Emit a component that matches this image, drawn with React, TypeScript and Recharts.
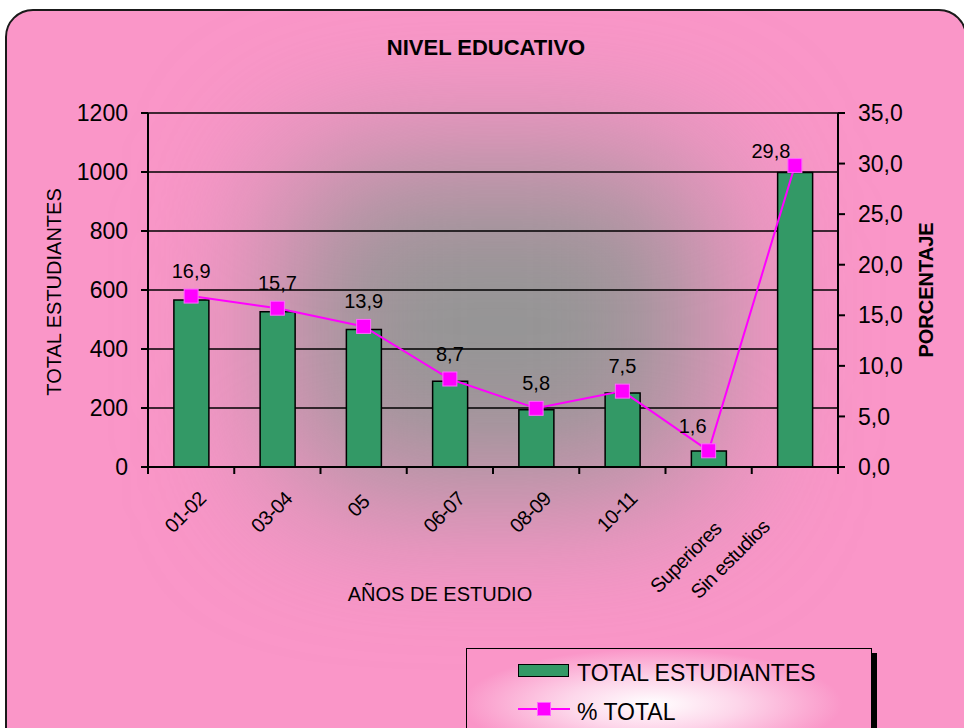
import React from "react";
import {
  Bar,
  CartesianGrid,
  ComposedChart,
  Label,
  LabelList,
  Line,
  XAxis,
  YAxis,
} from "recharts";

const categories = ["01-02", "03-04", "05", "06-07", "08-09", "10-11", "Superiores", "Sin estudios"];
const totalEstudiantes = [566, 526, 466, 291, 194, 251, 54, 998];
const porcentaje = [16.9, 15.7, 13.9, 8.7, 5.8, 7.5, 1.6, 29.8];
const leftTicks = [0, 200, 400, 600, 800, 1000, 1200];
const rightTicks = [0, 5, 10, 15, 20, 25, 30, 35];

const data = categories.map((name, i) => ({
  name,
  total: totalEstudiantes[i],
  pct: porcentaje[i],
}));

const FONT = '"Liberation Sans", Arial, sans-serif';
const PINK = "#FA96C8";
const W = 964;
const H = 728;
const AXIS_W = 70;
const M = { top: 113, right: 56, bottom: 161, left: 78 };
const BAND = (W - M.left - M.right - 2 * AXIS_W) / categories.length;

// Excel moved a couple of the data labels to the left of their points
const labelNudge: Record<number, [number, number]> = {
  6: [-16, 0],
  7: [-24, 10],
};
// and placed some category labels off their tick
const tickNudge: Record<number, [number, number]> = {
  2: [-9, 3],
  6: [-2, 30],
  7: [-40, 28],
};

const fmt = (v: number) => v.toFixed(1).replace(".", ",");

function XTick(props: any) {
  const { x, y, payload, index } = props;
  const last = index === categories.length - 1;
  const [dx, dy] = tickNudge[index] ?? [0, 0];
  const ax = x + 16 + dx;
  const ay = y + 33 + dy;
  return (
    <g>
      <line x1={x - BAND / 2} x2={x - BAND / 2} y1={y} y2={y + 7} stroke="#000" strokeWidth={2} />
      {last && <line x1={x + BAND / 2} x2={x + BAND / 2} y1={y} y2={y + 7} stroke="#000" strokeWidth={2} />}
      <text
        x={ax}
        y={ay}
        transform={`rotate(-45, ${ax}, ${ay})`}
        textAnchor="end"
        fontSize={20}
        letterSpacing={-0.6}
        fontFamily={FONT}
        fill="#000"
      >
        {payload.value}
      </text>
    </g>
  );
}

function PctLabel(props: any) {
  const { x, y, value, index } = props;
  const [dx, dy] = labelNudge[index] ?? [0, 0];
  return (
    <text x={x + dx} y={y - 18 + dy} textAnchor="middle" fontSize={20} fontFamily={FONT} fill="#000">
      {fmt(value)}
    </text>
  );
}

function SquareDot(props: any) {
  const { cx, cy, index } = props;
  return <rect key={index} x={cx - 7} y={cy - 7} width={14} height={14} fill="#FF00FF" stroke="#FF66FF" strokeWidth={1} />;
}

export default function App() {
  return (
    <div
      style={{
        position: "fixed",
        left: 0,
        top: 0,
        width: W,
        height: H,
        overflow: "hidden",
        background: "#fff",
        fontFamily: FONT,
      }}
    >
      <div
        style={{
          position: "absolute",
          left: 5,
          top: 9,
          width: 962,
          height: 790,
          borderRadius: 28,
          border: "2px solid #1a1a1a",
          background: PINK,
          overflow: "hidden",
          boxSizing: "border-box",
        }}
      >
        <div
          style={{
            position: "absolute",
            left: 280,
            top: 150,
            width: 420,
            height: 330,
            borderRadius: 60,
            background: "#959595",
            filter: "blur(75px)",
          }}
        />
      </div>

      <div
        style={{
          position: "absolute",
          left: 0,
          width: 972,
          top: 35,
          textAlign: "center",
          fontWeight: "bold",
          fontSize: 22,
          color: "#000",
        }}
      >
        NIVEL EDUCATIVO
      </div>

      <ComposedChart
        width={W}
        height={H}
        data={data}
        margin={M}
        barCategoryGap="30%"
        style={{ position: "absolute", left: 0, top: 0 }}
      >
        <CartesianGrid yAxisId="left" vertical={false} stroke="#000" strokeWidth={1.5} />
        <XAxis
          dataKey="name"
          interval={0}
          height={100}
          axisLine={{ stroke: "#000", strokeWidth: 2 }}
          tickLine={false}
          tickSize={0}
          tickMargin={0}
          tick={<XTick />}
        >
          <Label
            content={() => (
              <text x={440} y={601} textAnchor="middle" fontSize={20} fontFamily={FONT} fill="#000">
                AÑOS DE ESTUDIO
              </text>
            )}
          />
        </XAxis>
        <YAxis
          yAxisId="left"
          width={AXIS_W}
          domain={[0, 1200]}
          ticks={leftTicks}
          interval={0}
          axisLine={{ stroke: "#000", strokeWidth: 2 }}
          tickLine={{ stroke: "#000", strokeWidth: 2 }}
          tickSize={7}
          tickMargin={13}
          tick={{ fill: "#000", fontSize: 23, fontFamily: FONT }}
        >
          <Label
            content={(p: any) => {
              const cx = p.viewBox.x - 17;
              const cy = p.viewBox.y + p.viewBox.height / 2 + 2;
              return (
                <text
                  x={cx}
                  y={cy}
                  transform={`rotate(-90, ${cx}, ${cy})`}
                  textAnchor="middle"
                  fontSize={20}
                  fontFamily={FONT}
                  fill="#000"
                >
                  TOTAL ESTUDIANTES
                </text>
              );
            }}
          />
        </YAxis>
        <YAxis
          yAxisId="right"
          orientation="right"
          width={AXIS_W}
          domain={[0, 35]}
          ticks={rightTicks}
          interval={0}
          tickFormatter={fmt}
          axisLine={{ stroke: "#000", strokeWidth: 2 }}
          tickLine={{ stroke: "#000", strokeWidth: 2 }}
          tickSize={7}
          tickMargin={13}
          tick={{ fill: "#000", fontSize: 23, fontFamily: FONT }}
        >
          <Label
            content={(p: any) => {
              const cx = p.viewBox.x + p.viewBox.width + 25;
              const cy = p.viewBox.y + p.viewBox.height / 2;
              return (
                <text
                  x={cx}
                  y={cy}
                  transform={`rotate(-90, ${cx}, ${cy})`}
                  textAnchor="middle"
                  fontSize={20}
                  fontWeight="bold"
                  fontFamily={FONT}
                  fill="#000"
                >
                  PORCENTAJE
                </text>
              );
            }}
          />
        </YAxis>
        <Bar
          yAxisId="left"
          dataKey="total"
          fill="#339966"
          stroke="#000"
          strokeWidth={1.5}
          isAnimationActive={false}
        />
        <Line
          yAxisId="right"
          dataKey="pct"
          type="linear"
          stroke="#FF00FF"
          strokeWidth={2}
          dot={SquareDot}
          activeDot={false}
          isAnimationActive={false}
        >
          <LabelList dataKey="pct" content={PctLabel} />
        </Line>
      </ComposedChart>

      <div
        style={{
          position: "absolute",
          left: 466,
          top: 648,
          width: 406,
          height: 110,
          boxSizing: "border-box",
          border: "1.5px solid #000",
          boxShadow: "5px 5px 0 #000",
          background: `radial-gradient(ellipse 190px 55px at 185px 55px, #ffffff 0%, #fdd6ea 45%, ${PINK} 100%)`,
        }}
      >
        <div style={{ position: "absolute", left: 51, top: 15, width: 51, height: 13, background: "#339966", border: "1.5px solid #000", boxSizing: "border-box" }} />
        <div style={{ position: "absolute", left: 110, top: 13, fontSize: 23, lineHeight: "23px", color: "#000" }}>TOTAL ESTUDIANTES</div>
        <div style={{ position: "absolute", left: 51, top: 59, width: 52, height: 2, background: "#FF00FF" }} />
        <div style={{ position: "absolute", left: 70, top: 53, width: 14, height: 14, background: "#FF00FF", border: "1px solid #FF66FF", boxSizing: "border-box" }} />
        <div style={{ position: "absolute", left: 110, top: 52, fontSize: 23, lineHeight: "23px", color: "#000" }}>% TOTAL</div>
      </div>
    </div>
  );
}
